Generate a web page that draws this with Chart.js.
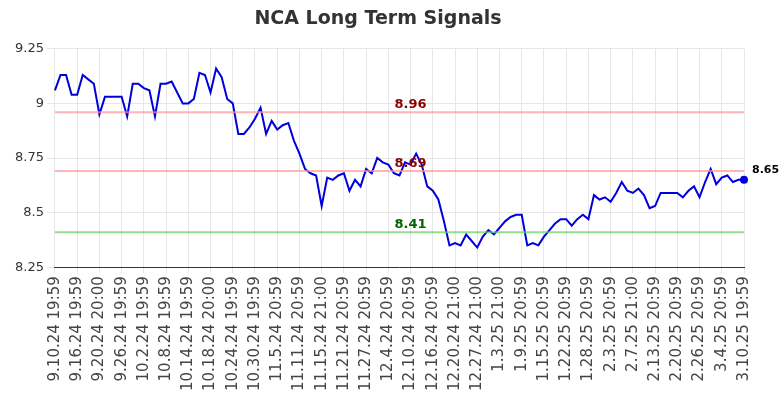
<!DOCTYPE html>
<html>
<head>
<meta charset="utf-8">
<script src="https://cdn.jsdelivr.net/npm/chart.js@4/dist/chart.umd.min.js"></script>
<style>
  body { margin: 0; background: #fff; }
  #wrap { width: 784px; height: 400px; }
</style>
</head>
<body>
<div id="wrap"><canvas id="chart"></canvas></div>
<script>
var tickLabels = ['9.10.24 19:59', '9.16.24 19:59', '9.20.24 20:00', '9.26.24 19:59', '10.2.24 19:59', '10.8.24 19:59',
    '10.14.24 19:59', '10.18.24 20:00', '10.24.24 19:59', '10.30.24 19:59', '11.5.24 20:59', '11.11.24 20:59',
    '11.15.24 21:00', '11.21.24 20:59', '11.27.24 20:59', '12.4.24 20:59', '12.10.24 20:59', '12.16.24 20:59',
    '12.20.24 21:00', '12.27.24 21:00', '1.3.25 21:00', '1.9.25 20:59', '1.15.25 20:59', '1.22.25 20:59',
    '1.28.25 20:59', '2.3.25 20:59', '2.7.25 21:00', '2.13.25 20:59', '2.20.25 20:59', '2.26.25 20:59',
    '3.4.25 20:59', '3.10.25 19:59'];

var prices = [
    9.06, 9.13, 9.13, 9.04, 9.04, 9.13, 9.11, 9.09, 8.95, 9.03,
    9.03, 9.03, 9.03, 8.94, 9.09, 9.09, 9.07, 9.06, 8.94, 9.09,
    9.09, 9.10, 9.05, 9.00, 9.00, 9.02, 9.14, 9.13, 9.05, 9.16,
    9.12, 9.02, 9.00, 8.86, 8.86, 8.89, 8.93, 8.98, 8.86, 8.92,
    8.88, 8.90, 8.91, 8.83, 8.77, 8.70, 8.68, 8.67, 8.53, 8.66,
    8.65, 8.67, 8.68, 8.60, 8.65, 8.62, 8.70, 8.68, 8.75, 8.73,
    8.72, 8.68, 8.67, 8.73, 8.72, 8.77, 8.72, 8.62, 8.60, 8.56,
    8.46, 8.35, 8.36, 8.35, 8.40, 8.37, 8.34, 8.39, 8.42, 8.40,
    8.43, 8.46, 8.48, 8.49, 8.49, 8.35, 8.36, 8.35, 8.39, 8.42,
    8.45, 8.47, 8.47, 8.44, 8.47, 8.49, 8.47, 8.58, 8.56, 8.57,
    8.55, 8.59, 8.64, 8.60, 8.59, 8.61, 8.58, 8.52, 8.53, 8.59,
    8.59, 8.59, 8.59, 8.57, 8.60, 8.62, 8.57, 8.64, 8.70,
    8.63, 8.66, 8.67, 8.64, 8.65, 8.65
];

var signalValues = [8.96, 8.69, 8.41];
var signalColors = ['#8b0000', '#8b0000', '#006400'];
var signalLines = ['rgba(255,150,150,0.7)', 'rgba(255,150,150,0.7)', 'rgba(100,210,100,0.7)'];

// one category per trading point; only every 4th shows a date
var labels = prices.map(function(v, i) { return i % 4 === 0 ? tickLabels[i / 4] : ''; });

var signalPlugin = {
    id: 'signals',
    afterDatasetsDraw: function(chart) {
        var ctx = chart.ctx, area = chart.chartArea, y = chart.scales.y, x = chart.scales.x;
        ctx.save();
        signalValues.forEach(function(v, i) {
            var py = y.getPixelForValue(v);
            ctx.strokeStyle = signalLines[i];
            ctx.lineWidth = 2;
            ctx.beginPath(); ctx.moveTo(area.left, py); ctx.lineTo(area.right, py); ctx.stroke();
            ctx.fillStyle = signalColors[i];
            ctx.font = 'bold 13px "DejaVu Sans", sans-serif';
            ctx.textAlign = 'center'; ctx.textBaseline = 'bottom';
            ctx.fillText(v.toFixed(2), x.getPixelForValue(64), py - 1);
        });
        var last = prices.length - 1;
        var lx = x.getPixelForValue(last), ly = y.getPixelForValue(prices[last]);
        ctx.fillStyle = '#000';
        ctx.font = 'bold 11px "DejaVu Sans", sans-serif';
        ctx.textAlign = 'left'; ctx.textBaseline = 'bottom';
        ctx.fillText(prices[last].toFixed(2), lx + 8, ly - 4);
        ctx.restore();
    }
};

new Chart(document.getElementById('chart'), {
    type: 'line',
    data: {
        labels: labels,
        datasets: [{
            data: prices,
            borderColor: '#0000dd',
            borderWidth: 2,
            tension: 0,
            pointRadius: prices.map(function(v, i) { return i === prices.length - 1 ? 4 : 0; }),
            pointBackgroundColor: '#0000dd',
            pointBorderWidth: 0
        }]
    },
    options: {
        responsive: true,
        maintainAspectRatio: false,
        animation: false,
        layout: { padding: { right: 40, left: 12, bottom: 6 } },
        plugins: {
            legend: { display: false },
            tooltip: { enabled: false },
            title: {
                display: true,
                text: 'NCA Long Term Signals',
                color: '#333',
                font: { size: 19, weight: 'bold', family: '"DejaVu Sans", sans-serif' },
                padding: { top: 8, bottom: 18 }
            }
        },
        scales: {
            x: {
                grid: {
                    color: function(c) { return c.index % 4 === 0 ? '#e6e6e6' : 'rgba(0,0,0,0)'; },
                    tickLength: 6
                },
                border: { color: '#333' },
                ticks: {
                    autoSkip: false, minRotation: 90, maxRotation: 90,
                    color: '#444', font: { size: 15, family: '"DejaVu Sans", sans-serif' }
                }
            },
            y: {
                min: 8.25, max: 9.25,
                grid: { color: '#e6e6e6' },
                border: { display: false },
                ticks: {
                    stepSize: 0.25, color: '#333',
                    font: { size: 13, family: '"DejaVu Sans", sans-serif' },
                    callback: function(v) { return String(Math.round(v * 100) / 100); }
                }
            }
        }
    },
    plugins: [signalPlugin]
});
</script>
</body>
</html>
